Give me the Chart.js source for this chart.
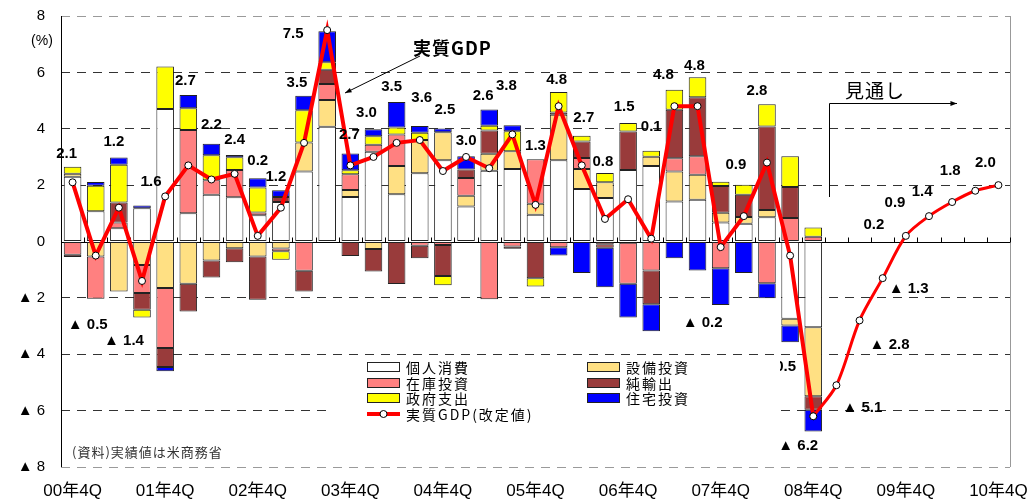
<!DOCTYPE html>
<html lang="ja">
<head>
<meta charset="utf-8">
<title>米国 実質GDP成長率と需要項目別寄与度</title>
<script src="https://cdn.jsdelivr.net/npm/chart.js@4.4.1/dist/chart.umd.min.js"></script>
<style>
  html, body { margin: 0; padding: 0; background: #fff; }
</style>
</head>
<body>
<canvas id="grafico" width="1033" height="499"></canvas>
<script>
// 四半期 00年4Q〜10年4Q
const quarters = [
  '00年4Q', '01年1Q', '01年2Q', '01年3Q', '01年4Q', '02年1Q', '02年2Q', '02年3Q',
  '02年4Q', '03年1Q', '03年2Q', '03年3Q', '03年4Q', '04年1Q', '04年2Q', '04年3Q',
  '04年4Q', '05年1Q', '05年2Q', '05年3Q', '05年4Q', '06年1Q', '06年2Q', '06年3Q',
  '06年4Q', '07年1Q', '07年2Q', '07年3Q', '07年4Q', '08年1Q', '08年2Q', '08年3Q',
  '08年4Q', '09年1Q', '09年2Q', '09年3Q', '09年4Q', '10年1Q', '10年2Q', '10年3Q',
  '10年4Q'
];
const tickQuarters = ['00年4Q', '01年4Q', '02年4Q', '03年4Q', '04年4Q', '05年4Q',
  '06年4Q', '07年4Q', '08年4Q', '09年4Q', '10年4Q'];
const yTicks = [-8, -6, -4, -2, 0, 2, 4, 6, 8];

// 寄与度 (%ポイント) 00年4Q〜08年4Q
const kojinShohi = [2.30, 1.07, 0.47, 1.18, 4.70, 1.00, 1.66, 1.57, 0.93, 1.40,
  2.48, 4.07, 1.58, 3.18, 1.68, 2.42, 2.88, 1.24, 2.51, 2.57,
  0.95, 2.88, 1.86, 1.54, 2.54, 2.68, 1.42, 1.48, 0.67, 0.63,
  0.86, -2.74, -3.04];
const setsubi = [0.10, -0.53, -1.77, -0.83, -1.65, -1.50, -0.67, -0.24, -0.53, -0.25,
  1.03, 0.95, 0.25, -0.27, 1.00, 1.18, 1.00, 0.38, 0.60, 0.63,
  0.39, 1.62, 0.71, 0.56, -0.04, 0.33, 1.06, 0.89, 0.35, 0.24,
  0.26, -0.24, -2.45];
const zaiko = [-0.47, -1.50, 0.20, -1.00, -2.13, 2.96, 0.51, 0.97, 0.10, -0.10,
  -1.04, 0.57, 0.56, 0.25, 1.12, -0.15, -0.12, 0.63, -2.05, -0.18,
  1.58, -0.20, 0.39, -0.10, -1.46, -1.03, 0.47, 0.65, -0.95, 0,
  -1.48, 0.83, 0.17];
const junYushutsu = [-0.08, 0, 0.71, -0.59, -0.67, -0.98, -0.61, -0.50, -1.54, 0.18,
  -0.73, 0.50, -0.51, -0.79, -1.51, -0.44, -1.10, 0.30, 0.83, -0.08,
  -1.30, 0.08, 0.59, -0.12, 1.36, -1.20, 1.72, 2.10, 0.95, 0.79,
  2.96, 1.10, -0.48];
const seifu = [0.25, 0.91, 1.34, -0.28, 1.51, 0.77, 0.89, 0.45, 0.89, -0.30,
  1.15, 0.27, 0.14, 0.30, 0.24, 0.26, -0.33, 0, 0.17, 0.71,
  -0.30, 0.72, 0.20, 0.33, 0.30, 0.21, 0.71, 0.71, 0.15, 0.35,
  0.79, 1.09, 0.33];
const jutaku = [0, 0.13, 0.26, 0.10, -0.15, 0.47, 0.41, 0.08, 0.32, 0.24,
  0.51, 1.10, 0.59, 0.25, 0.91, 0.24, 0.13, 0.47, 0.57, 0.21,
  0, -0.30, -1.12, -1.40, -1.20, -0.95, -0.59, -1.03, -1.30, -1.12,
  -0.53, -0.59, -0.77];

// 実質GDP 前期比年率 (%)  08年4Qまで実績、以降は見通し
const gdp = [2.1, -0.5, 1.2, -1.4, 1.6, 2.7, 2.2, 2.4, 0.2, 1.2,
  3.5, 7.5, 2.7, 3.0, 3.5, 3.6, 2.5, 3.0, 2.6, 3.8,
  1.3, 4.8, 2.7, 0.8, 1.5, 0.1, 4.8, 4.8, -0.2, 0.9,
  2.8, -0.5, -6.2, -5.1, -2.8, -1.3, 0.2, 0.9, 1.4, 1.8,
  2.0];
const lastActual = 32;

// ラベルの点からのずれ(px)
const labelShift = [
  [-6, -28], [-8, 69], [-5, -66], [-18, 60], [-14, -15], [-3, -85], [0, -55], [0, -34],
  [0, -75], [-5, -31], [-7, -60], [-34, 4], [-1, -31], [-7, -44], [-5, -56], [2, -42],
  [2, -61], [0, -16], [-6, -72], [-6, -49], [0, -59], [-2, -26], [2, -48], [-2, -57],
  [-4, -92], [0, -112], [-11, -31], [-3, -40], [-18, 76], [-8, -51], [-10, -72], [-14, 111],
  [-15, 30], [26, 23], [30, 24], [26, 11], [-32, -11], [-34, -13], [-30, -10], [-25, -20],
  [-13, -22]
];

const latin = '"Liberation Sans", Arial, "DejaVu Sans", sans-serif';
const jp = '"Noto Sans CJK JP", "Liberation Sans", sans-serif';

function barSet(label, values, color) {
  return {
    type: 'bar',
    label: label,
    data: values.map(v => (v === 0 ? null : v)),
    backgroundColor: color,
    borderColor: '#222',
    borderWidth: 1,
    borderSkipped: false,
    stack: 'kiyo',
    order: 2
  };
}

const actualLine = gdp.map((v, i) => (i <= lastActual ? v : null));
const forecastLine = gdp.map((v, i) => (i >= lastActual ? v : null));

function arrow(ctx, x1, y1, x2, y2) {
  ctx.beginPath();
  ctx.moveTo(x1, y1);
  ctx.lineTo(x2, y2);
  ctx.stroke();
  const a = Math.atan2(y2 - y1, x2 - x1);
  const s = 7;
  ctx.beginPath();
  ctx.moveTo(x2, y2);
  ctx.lineTo(x2 - s * Math.cos(a - 0.35), y2 - s * Math.sin(a - 0.35));
  ctx.lineTo(x2 - s * Math.cos(a + 0.35), y2 - s * Math.sin(a + 0.35));
  ctx.closePath();
  ctx.fill();
}

// ゼロ線と目盛、枠
const zeroLinePlugin = {
  id: 'zeroLine',
  beforeDatasetsDraw(chart) {
    const { ctx, chartArea, scales: { x, y } } = chart;
    const y0 = Math.round(y.getPixelForValue(0)) + 0.5;
    ctx.save();
    ctx.strokeStyle = '#999';
    ctx.lineWidth = 1;
    ctx.beginPath();
    ctx.moveTo(Math.round(chartArea.right) + 0.5, chartArea.top);
    ctx.lineTo(Math.round(chartArea.right) + 0.5, chartArea.bottom);
    ctx.stroke();
    ctx.strokeStyle = '#000';
    ctx.beginPath();
    ctx.moveTo(Math.round(chartArea.left) + 0.5, chartArea.top);
    ctx.lineTo(Math.round(chartArea.left) + 0.5, chartArea.bottom);
    ctx.moveTo(chartArea.left, y0);
    ctx.lineTo(chartArea.right, y0);
    for (let i = 1; i <= quarters.length; i++) {
      const px = Math.round(x.getPixelForValue(i - 0.5)) + 0.5;
      ctx.moveTo(px, y0 - 5);
      ctx.lineTo(px, y0);
    }
    ctx.stroke();
    ctx.restore();
  }
};

// 実質GDPの数値ラベル
const gdpLabelPlugin = {
  id: 'gdpLabels',
  afterDatasetsDraw(chart) {
    const { ctx, scales: { x, y } } = chart;
    ctx.save();
    ctx.font = 'bold 15px ' + latin;
    ctx.fillStyle = '#000';
    ctx.textAlign = 'center';
    ctx.textBaseline = 'middle';
    gdp.forEach((v, i) => {
      const [dx, dy] = labelShift[i];
      const txt = v < 0 ? '▲ ' + Math.abs(v).toFixed(1) : v.toFixed(1);
      ctx.fillText(txt, x.getPixelForValue(i) + dx, y.getPixelForValue(v) + dy);
    });
    ctx.restore();
  }
};

// 凡例と注記
const notePlugin = {
  id: 'notes',
  afterDraw(chart) {
    const { ctx, chartArea, scales: { y } } = chart;
    ctx.save();

    // 凡例ボックス
    ctx.fillStyle = '#fff';
    ctx.fillRect(330, 358, 450, 68);
    const bars = chart.data.datasets.filter(d => d.type === 'bar');
    const rowY = [367, 383, 398, 414];
    const colX = [367, 587];
    ctx.font = '14px ' + jp;
    ctx.letterSpacing = '2px';
    ctx.textBaseline = 'middle';
    ctx.textAlign = 'left';
    bars.forEach((d, i) => {
      const cx = colX[i % 2];
      const cy = rowY[Math.floor(i / 2)];
      ctx.fillStyle = d.backgroundColor;
      ctx.fillRect(cx, cy - 5, 33, 10);
      ctx.strokeStyle = '#222';
      ctx.lineWidth = 1;
      ctx.strokeRect(cx + 0.5, cy - 4.5, 32, 9);
      ctx.fillStyle = '#000';
      ctx.fillText(d.label, cx + 39, cy + 1);
    });
    const ly = rowY[3];
    ctx.strokeStyle = '#f00';
    ctx.lineWidth = 4;
    ctx.beginPath();
    ctx.moveTo(colX[0], ly);
    ctx.lineTo(colX[0] + 33, ly);
    ctx.stroke();
    ctx.fillStyle = '#fff';
    ctx.strokeStyle = '#000';
    ctx.lineWidth = 1;
    ctx.beginPath();
    ctx.arc(colX[0] + 16.5, ly, 3.5, 0, Math.PI * 2);
    ctx.fill();
    ctx.stroke();
    ctx.fillStyle = '#000';
    ctx.fillText('実質GDP(改定値)', colX[0] + 39, ly + 1);

    // (%)
    ctx.letterSpacing = '0px';
    ctx.font = '14px ' + latin;
    ctx.textAlign = 'center';
    ctx.fillText('(%)', chartArea.left - 19, y.getPixelForValue(8) + 25);

    // 資料
    ctx.font = '13px ' + jp;
    ctx.letterSpacing = '1px';
    ctx.textAlign = 'left';
    ctx.fillStyle = '#333';
    ctx.fillText('(資料)実績値は米商務省', 72, 452);

    // 実質GDP 矢印
    ctx.fillStyle = '#000';
    ctx.strokeStyle = '#000';
    ctx.lineWidth = 1;
    ctx.font = 'bold 18px ' + jp;
    ctx.letterSpacing = '1px';
    ctx.fillText('実質GDP', 413, 48);
    arrow(ctx, 420, 56, 345, 93);

    // 見通し 矢印
    ctx.font = '19px ' + jp;
    ctx.letterSpacing = '1px';
    ctx.fillText('見通し', 845, 91);
    ctx.beginPath();
    ctx.moveTo(829.5, 197);
    ctx.lineTo(829.5, 103.5);
    ctx.stroke();
    arrow(ctx, 829.5, 103.5, 957, 103.5);

    ctx.restore();
  }
};

const ctx = document.getElementById('grafico').getContext('2d');
const chart = new Chart(ctx, {
  data: {
    labels: quarters,
    datasets: [
      barSet('個人消費', kojinShohi, '#FFFFFF'),
      barSet('設備投資', setsubi, '#FFE083'),
      barSet('在庫投資', zaiko, '#FF8080'),
      barSet('純輸出', junYushutsu, '#993B3B'),
      barSet('政府支出', seifu, '#FFFF00'),
      barSet('住宅投資', jutaku, '#0000FF'),
      {
        type: 'line',
        label: '実質GDP(改定値)',
        data: actualLine,
        borderColor: '#FF0000',
        borderWidth: 4,
        pointRadius: 3.5,
        pointBackgroundColor: '#FFFFFF',
        pointBorderColor: '#000',
        pointBorderWidth: 1,
        tension: 0,
        stack: 'gdpA',
        order: 1
      },
      {
        type: 'line',
        label: '見通し',
        data: forecastLine,
        borderColor: '#FF0000',
        borderWidth: 3,
        pointRadius: 3.5,
        pointBackgroundColor: '#FFFFFF',
        pointBorderColor: '#000',
        pointBorderWidth: 1,
        tension: 0.3,
        stack: 'gdpB',
        order: 0
      }
    ]
  },
  options: {
    responsive: false,
    animation: false,
    devicePixelRatio: 1,
    layout: { padding: { top: 16, right: 23, left: 0, bottom: 0 } },
    datasets: {
      bar: { categoryPercentage: 1, barPercentage: 0.76 }
    },
    plugins: {
      legend: { display: false },
      tooltip: { enabled: false }
    },
    scales: {
      x: {
        stacked: true,
        offset: true,
        grid: { display: false, drawTicks: false },
        border: { display: false },
        ticks: {
          autoSkip: false,
          maxRotation: 0,
          padding: 14,
          color: '#000',
          font: { family: latin + ', "Noto Sans CJK JP"', size: 17 },
          callback: (v, i) => (tickQuarters.includes(quarters[i]) ? quarters[i] : '')
        },
        afterFit: s => {
          s.height = 32;
          s.paddingLeft = 0;
          s.paddingRight = 0;
        }
      },
      y: {
        stacked: true,
        min: -8,
        max: 8,
        afterBuildTicks: s => { s.ticks = yTicks.map(v => ({ value: v })); },
        grid: {
          drawTicks: false,
          lineWidth: 1,
          color: c => {
            const v = c.tick ? c.tick.value : 0;
            if (v === 0) return 'rgba(0,0,0,0)';
            if (Math.abs(v) === 8) return '#9a9a9a';
            return '#333';
          }
        },
        border: { display: false, dash: [9, 7] },
        ticks: {
          padding: 16,
          color: '#000',
          font: { family: latin, size: 15 },
          callback: v => (v < 0 ? '▲ ' + (-v) : String(v))
        },
        afterFit: s => {
          s.width = 61;
          s.paddingTop = 0;
          s.paddingBottom = 0;
        }
      }
    }
  },
  plugins: [zeroLinePlugin, gdpLabelPlugin, notePlugin]
});
</script>
</body>
</html>
